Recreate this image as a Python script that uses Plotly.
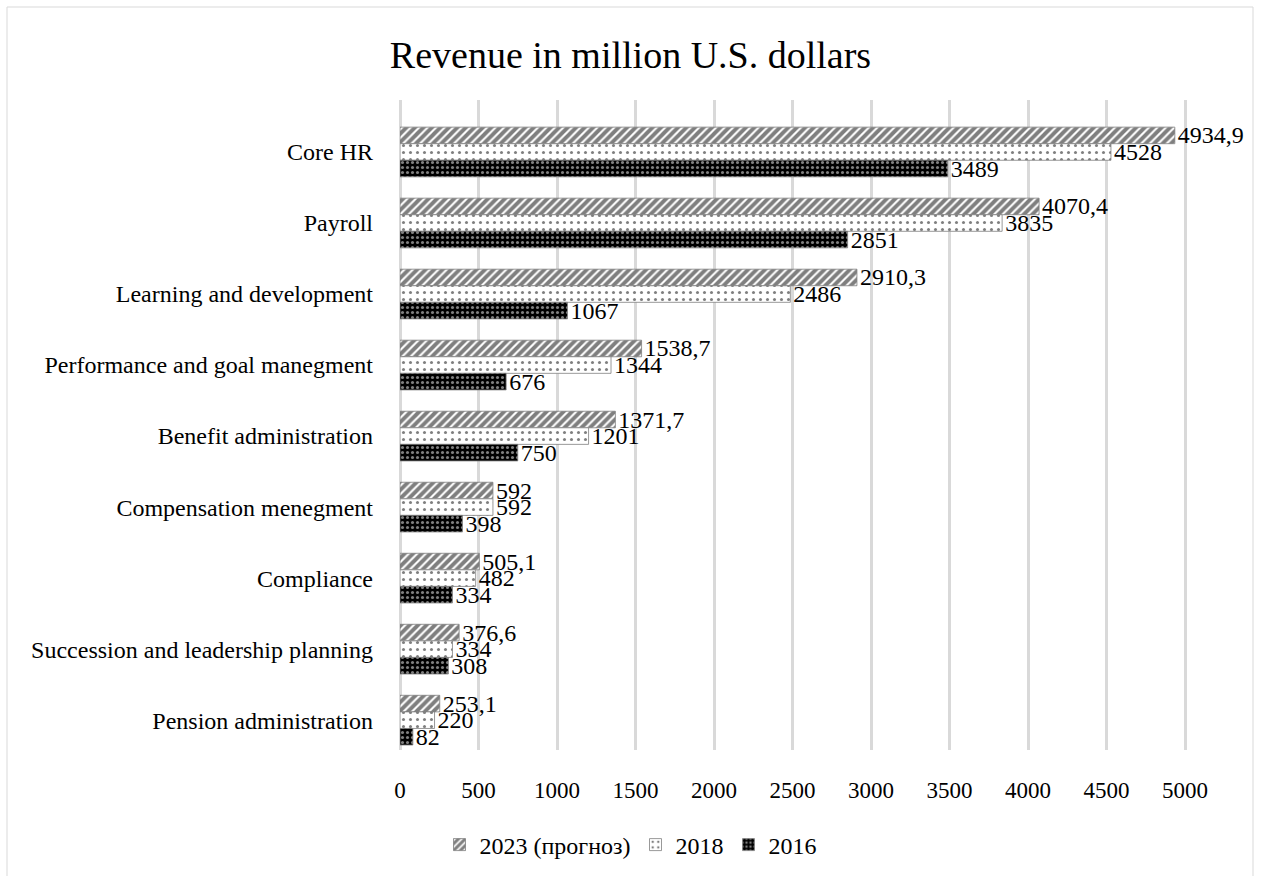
import plotly.graph_objects as go

categories = ["Core HR", "Payroll", "Learning and development",
              "Performance and goal manegment", "Benefit administration",
              "Compensation menegment", "Compliance",
              "Succession and leadership planning", "Pension administration"]
v2023 = [4934.9, 4070.4, 2910.3, 1538.7, 1371.7, 592, 505.1, 376.6, 253.1]
v2018 = [4528, 3835, 2486, 1344, 1201, 592, 482, 334, 220]
v2016 = [3489, 2851, 1067, 676, 750, 398, 334, 308, 82]
series_names = ["2023 (прогноз)", "2018", "2016"]
x_ticks = [0, 500, 1000, 1500, 2000, 2500, 3000, 3500, 4000, 4500, 5000]

FONT = "Liberation Serif, Times New Roman, serif"

def fmt(v):
    s = ("%g" % v)
    return s.replace(".", ",")

patterns = [
    dict(shape="/", fgcolor="#000000", bgcolor="#ffffff", size=6, solidity=0.65),
    dict(shape=".", fgcolor="#000000", bgcolor="#ffffff", size=7, solidity=0.15),
    dict(shape=".", fgcolor="#ffffff", bgcolor="#000000", size=5, solidity=0.3),
]

fig = go.Figure()
for name, vals, pat in zip(series_names, [v2023, v2018, v2016], patterns):
    fig.add_trace(go.Bar(
        y=categories, x=vals, orientation="h", name=name,
        marker=dict(color=pat["bgcolor"], pattern=pat, line=dict(width=0.8, color="#7f7f7f")),
        text=[fmt(v) for v in vals], textposition="outside",
        textfont=dict(family=FONT, size=24, color="#000000"),
        constraintext="none", cliponaxis=False,
    ))

L, R, T, B = 400, 21, 100, 126
W, H = 1261, 876
pw = W - L - R
ph = H - T - B

def px_x(p):
    return (p - L) / pw

def px_y(p):
    return (H - B - p) / ph

fig.update_layout(
    width=W, height=H,
    margin=dict(l=L, r=R, t=T, b=B),
    paper_bgcolor="white", plot_bgcolor="white",
    barmode="group", bargap=0.3, bargroupgap=0.0,
    title=dict(text="Revenue in million U.S. dollars", x=0.5, xref="container",
               y=1 - 55 / H, yref="container", yanchor="middle", xanchor="center",
               font=dict(family=FONT, size=38, color="#000000")),
    font=dict(family=FONT, color="#000000"),
    xaxis=dict(range=[0, 5350], tickvals=x_ticks, ticktext=[str(t) for t in x_ticks],
               showgrid=True, gridcolor="#d9d9d9", gridwidth=2.5,
               zeroline=True, zerolinecolor="#d9d9d9", zerolinewidth=2.5,
               showline=False, ticks="", ticklabelstandoff=24,
               tickfont=dict(family=FONT, size=23, color="#000000")),
    yaxis=dict(range=[8.42, -0.732], showgrid=False, zeroline=False, showline=False,
               ticks="", ticklabelstandoff=26,
               tickfont=dict(family=FONT, size=24, color="#000000")),
    legend=dict(orientation="h", x=0.5, xanchor="center", xref="container",
                y=1 - 845 / H, yanchor="middle", yref="container",
                font=dict(family=FONT, size=24, color="#000000"),
                itemwidth=30, traceorder="normal"),
    shapes=[dict(type="rect", xref="paper", yref="paper",
                 x0=px_x(7), x1=px_x(1253), y0=px_y(890), y1=px_y(7),
                 line=dict(color="#d9d9d9", width=1), fillcolor="rgba(0,0,0,0)",
                 layer="below")],
)

fig.write_html("out.html")
